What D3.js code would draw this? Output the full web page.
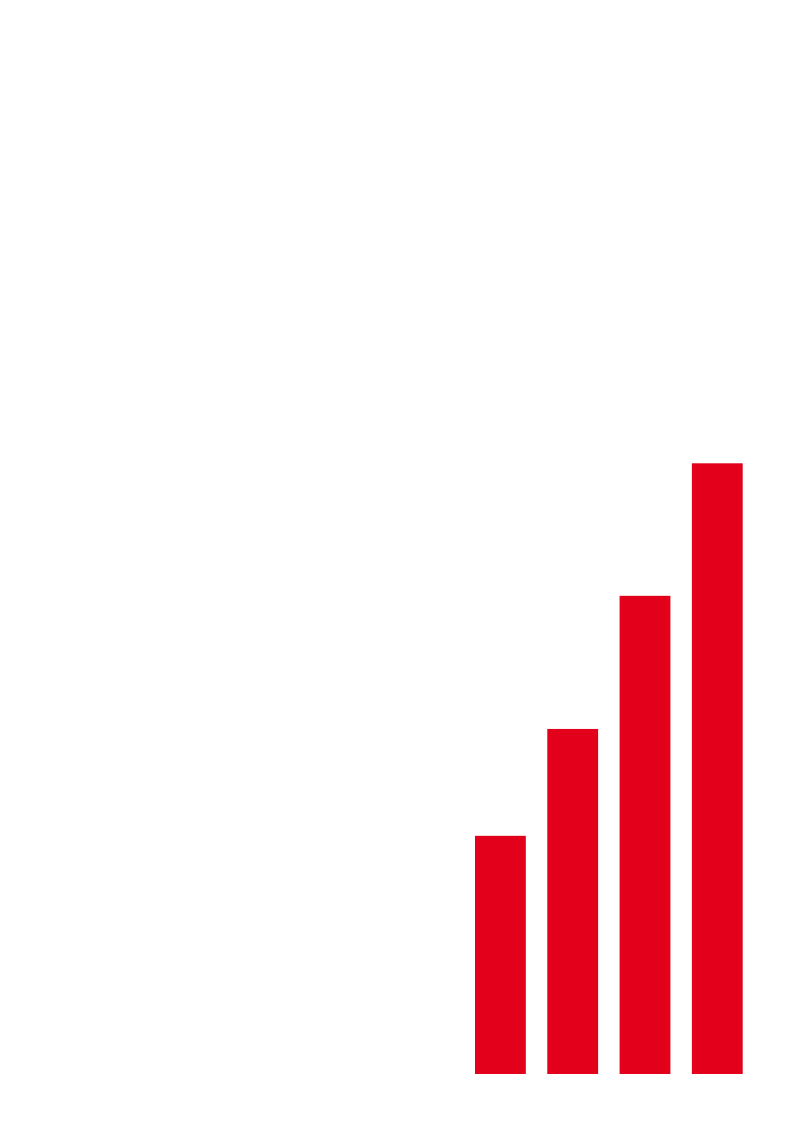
<!DOCTYPE html>
<html>
<head>
<meta charset="utf-8">
<script src="https://cdn.jsdelivr.net/npm/d3@7"></script>
<style>
  html, body { margin: 0; padding: 0; background: #fff; }
  svg { display: block; }
</style>
</head>
<body>
<script>
const categories = ['1', '2', '3', '4'];
const values = [39, 56.5, 78.3, 100];

const dimensions = {
  width: 800,
  height: 1131,
  left: 475,
  right: 742.7,
  top: 463.3,
  bottom: 1074,
};

const xScale = d3
  .scaleBand()
  .domain(categories)
  .range([dimensions.left, dimensions.right])
  .paddingInner(0.297)
  .paddingOuter(0);

const yScale = d3
  .scaleLinear()
  .domain([0, d3.max(values)])
  .range([dimensions.bottom, dimensions.top]);

const svg = d3
  .select('body')
  .append('svg')
  .attr('viewBox', [0, 0, dimensions.width, dimensions.height])
  .attr('width', dimensions.width)
  .attr('height', dimensions.height);

svg
  .append('g')
  .selectAll('rect')
  .data(values)
  .enter()
  .append('rect')
  .attr('x', (d, i) => xScale(categories[i]))
  .attr('y', d => yScale(d))
  .attr('width', xScale.bandwidth())
  .attr('height', d => yScale(0) - yScale(d))
  .attr('fill', '#e2001a');
</script>
</body>
</html>
